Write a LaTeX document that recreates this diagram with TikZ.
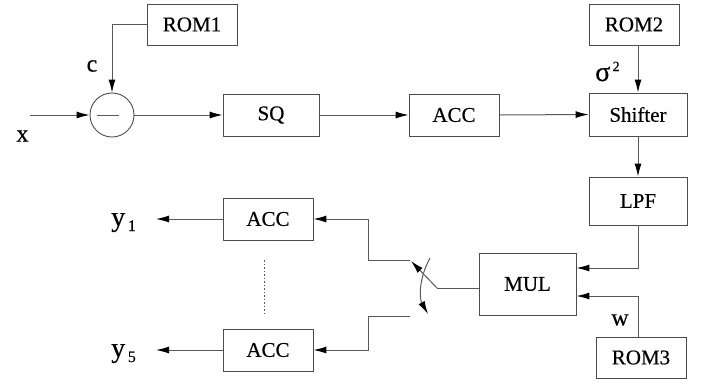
\documentclass[tikz,border=0pt]{standalone}
\usepackage{fontspec}
\setmainfont{Liberation Serif}[FakeBold=0.4]
\usetikzlibrary{arrows.meta,calc}
\begin{document}
\begin{tikzpicture}[x=1pt,y=-1pt,
  blk/.style={draw=black!70, line width=0.9pt, inner sep=0pt,
    font=\fontsize{21}{21}\selectfont},
  wire/.style={draw=black!65, line width=1pt},
  arr/.style={wire,-{Latex[length=13pt,width=7pt,color=black]}},
  lbl/.style={inner sep=0pt, font=\fontsize{24}{24}\selectfont}]
\useasboundingbox (0,0) rectangle (703,384);

% blocks
\node[blk, minimum width=90pt, minimum height=41pt] (rom1) at (192,24.5) {ROM1};
\node[blk, circle, minimum size=44pt] (sub) at (112,115) {};
\draw[wire] ([xshift=-15pt]sub.center) -- ([xshift=7pt]sub.center);
\node[blk, minimum width=96pt, minimum height=42pt] (sq) at (271,115) {SQ};
\node[blk, minimum width=90pt, minimum height=42pt] (acc) at (454,115) {ACC};
\node[blk, minimum width=98pt, minimum height=43pt] (shift) at (638,114.5) {Shifter};
\node[blk, minimum width=90pt, minimum height=41pt] (rom2) at (634,24.5) {ROM2};
\node[blk, minimum width=98pt, minimum height=48pt] (lpf) at (638,201) {LPF};
\node[blk, minimum width=97pt, minimum height=62pt] (mul) at (527.5,284) {MUL};
\node[blk, minimum width=90pt, minimum height=41pt] (rom3) at (641,357.5) {ROM3};
\node[blk, minimum width=90pt, minimum height=42pt] (acc1) at (268,219) {ACC};
\node[blk, minimum width=90pt, minimum height=42pt] (acc5) at (268,350) {ACC};

% free wire ends
\coordinate (xin) at (30,115);
\coordinate (y1out) at (156,219);
\coordinate (y5out) at (156,350);
\coordinate (pivot) at (437,288);
\coordinate (blade) at (411,261);
\coordinate (up) at (410,260);
\coordinate (dn) at (410,316);

% forward path
\draw[arr] (xin) -- (sub.west);
\draw[arr] (rom1.west) -| (sub.north);
\draw[arr] (sub.east) -- (sq.west);
\draw[arr] (sq.east) -- (acc.west);
\draw[arr] (acc.east) -- (shift.west);
\draw[arr] (shift.north |- rom2.south) -- (shift.north);
\draw[arr] (shift.south) -- (lpf.north);
\draw[arr] (lpf.south) |- ($(mul.east)+(0,-16)$);
\draw[arr] (lpf.south |- rom3.north) |- ($(mul.east)+(0,12)$);

% selector switch
\draw[wire] ($(mul.west)+(0,4)$) -- (pivot);
\draw[arr] (pivot) -- (blade);
\draw[arr] (430,258) .. controls (419,278) and (419,298) .. (428,314);
\draw[arr] (up) -- ++(-42,0) |- (acc1.east);
\draw[arr] (dn) -- ++(-42,0) |- (acc5.east);
\draw[arr] (acc1.west) -- (y1out);
\draw[arr] (acc5.west) -- (y5out);
\draw[wire, line width=0.6pt, dash pattern=on 1.5pt off 2pt] (264,260) -- (264,313);

% signal labels
\node[lbl] at (22.5,136) {x};
\node[lbl] at (92,66) {c};
\node[lbl] at (620,320) {w};
\node[lbl, anchor=base west, font=\fontsize{28}{28}\selectfont] at (595,81)
  {σ\raisebox{10pt}{\fontsize{14}{14}\selectfont\,2}};
\node[lbl, anchor=base west, font=\fontsize{28}{28}\selectfont] at (111,226)
  {y\raisebox{-5pt}{\fontsize{16}{16}\selectfont\,1}};
\node[lbl, anchor=base west, font=\fontsize{28}{28}\selectfont] at (111,357)
  {y\raisebox{-5pt}{\fontsize{16}{16}\selectfont\,5}};
\end{tikzpicture}
\end{document}
